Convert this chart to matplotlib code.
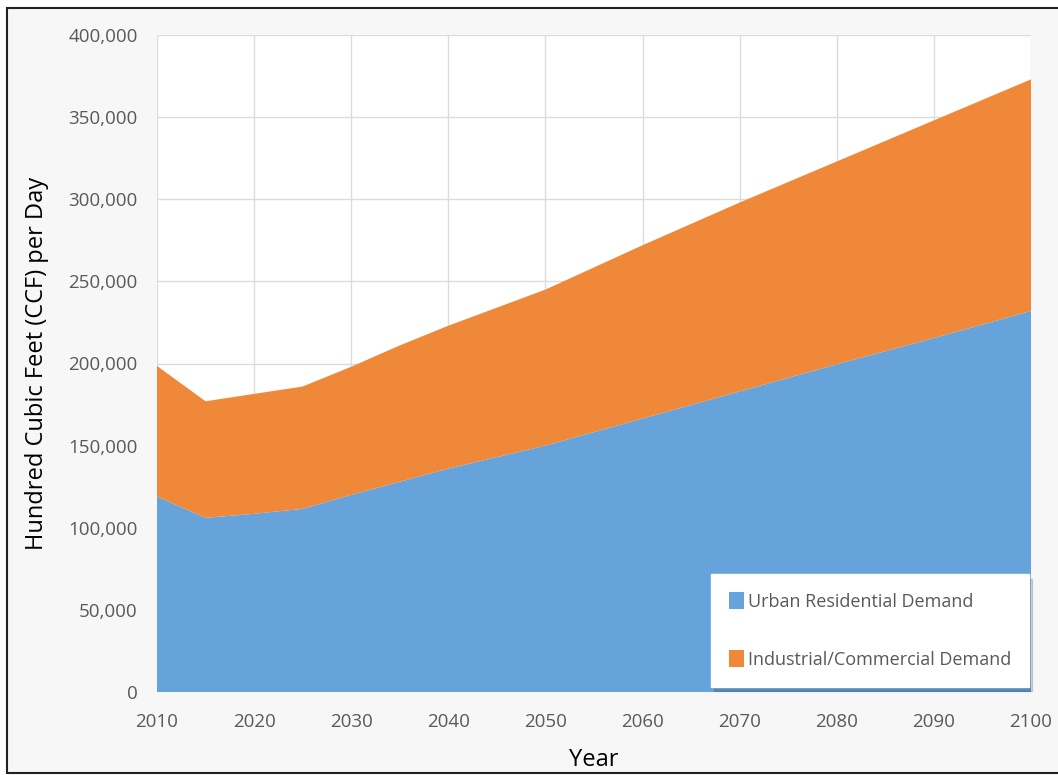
import matplotlib.pyplot as plt
from matplotlib.patches import Rectangle
from matplotlib.ticker import FuncFormatter

# Datos (CCF por dia)
years = [2010, 2015, 2020, 2025, 2030, 2035, 2040, 2045, 2050, 2060, 2070, 2080, 2090, 2100]
residential = [119000, 106000, 108500, 111500, 120000, 128000, 136000, 143000, 150000,
               166500, 183000, 199500, 215500, 232000]
industrial = [79500, 71000, 73000, 74500, 78000, 83000, 87000, 91000, 95000,
              105500, 115000, 123500, 132500, 141000]
labels = ["Urban Residential Demand", "Industrial/Commercial Demand"]
colors = ["#65A3DA", "#EF8838"]

plt.rcParams['font.family'] = ['Open Sans', 'DejaVu Sans']

fig = plt.figure(figsize=(10.58, 7.75), dpi=100)
fig.patch.set_facecolor("white")
# fondo gris claro con borde negro
fig.patches.append(Rectangle((7 / 1058, 2 / 775), 1.2, 765 / 775, transform=fig.transFigure,
                             facecolor="#f7f7f7", edgecolor="#222222", linewidth=1.5, zorder=-10))

ax = fig.add_axes([157 / 1058, 83 / 775, 874 / 1058, 657 / 775])
ax.set_facecolor("white")
ax.stackplot(years, residential, industrial, colors=colors, labels=labels, linewidth=0, zorder=2)

ax.set_xlim(2010, 2100)
ax.set_ylim(0, 400000)
ax.set_xticks(range(2010, 2101, 10))
ax.set_yticks(range(0, 400001, 50000))
ax.yaxis.set_major_formatter(FuncFormatter(lambda v, p: f"{int(v):,}"))
ax.grid(True, color="#dcdcdc", linewidth=1, zorder=0)
ax.set_axisbelow(True)
for s in ax.spines.values():
    s.set_visible(False)
ax.tick_params(length=0, labelsize=13.5, labelcolor="#595959")
ax.tick_params(axis='y', pad=14)
ax.tick_params(axis='x', pad=15)

ax.set_xlabel("Year", fontsize=17, labelpad=12)
ax.set_ylabel("Hundred Cubic Feet (CCF) per Day", fontsize=17, labelpad=14)

leg = ax.legend(loc="lower right", bbox_to_anchor=(0.998, 0.008), frameon=True, fancybox=False,
                fontsize=13, labelspacing=2.2, handlelength=0.85, handleheight=1.0,
                handletextpad=0.2, borderpad=1.0, borderaxespad=0,
                shadow={'color': '#000000', 'alpha': 0.15, 'ox': 2, 'oy': -3})
leg.get_frame().set_edgecolor("white")
leg.get_frame().set_facecolor("white")
leg.get_frame().set_alpha(1)
for t in leg.get_texts():
    t.set_color("#595959")

fig.savefig("out.png", dpi=100)
